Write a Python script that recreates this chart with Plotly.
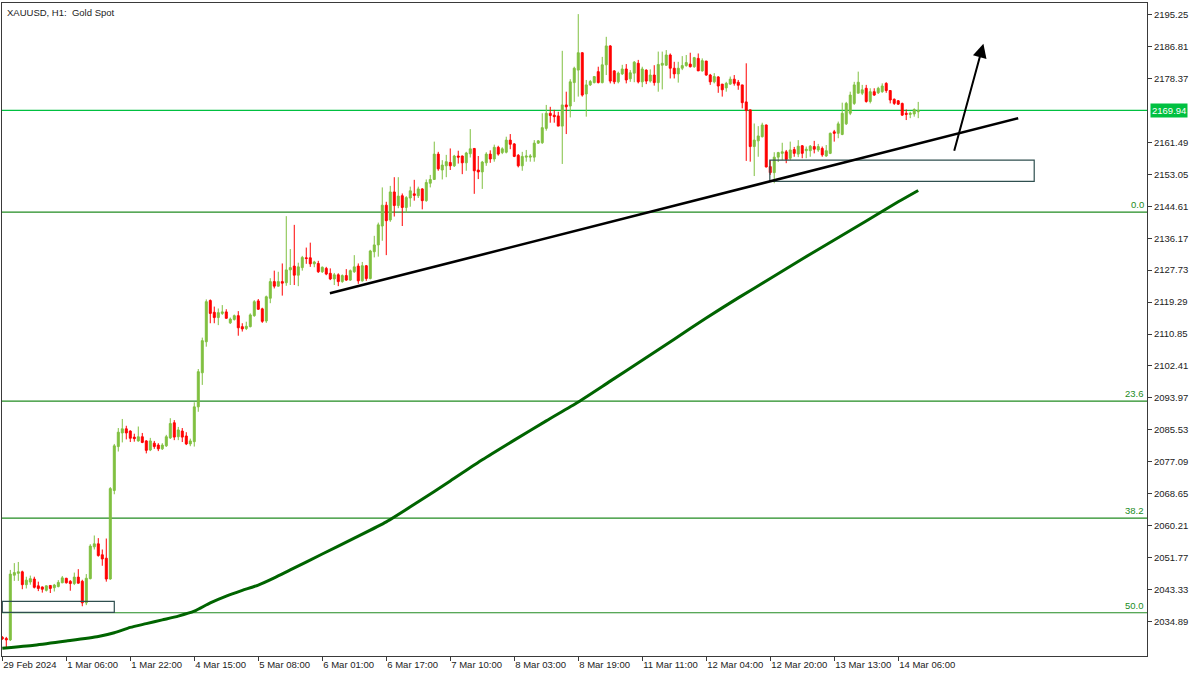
import plotly.graph_objects as go

# ---------------- data ----------------
title_text = "XAUUSD, H1:\u00a0 Gold Spot"

open_ = [
    2030.7, 2030.4, 2030.0, 2047.1, 2047.6, 2048.0, 2044.6, 2045.3, 2046.1, 2044.3,
    2044.0, 2043.1, 2044.4, 2043.8, 2044.1, 2045.1, 2046.3, 2045.5, 2044.9, 2046.6,
    2045.5, 2039.8, 2046.2, 2054.6, 2055.4, 2052.5, 2051.6, 2046.1, 2069.5, 2081.1,
    2084.7, 2085.8, 2085.2, 2083.6, 2082.6, 2083.7, 2082.6, 2080.2, 2082.0, 2081.5,
    2080.5, 2081.3, 2083.4, 2087.4, 2083.7, 2085.2, 2083.9, 2081.8, 2082.4, 2091.6,
    2100.6, 2108.8, 2119.7, 2116.6, 2115.2, 2116.3, 2116.7, 2113.8, 2114.7, 2115.7,
    2112.8, 2112.3, 2112.8, 2115.7, 2119.6, 2117.5, 2114.3, 2120.3, 2124.7, 2123.5,
    2124.7, 2124.4, 2127.8, 2128.8, 2126.4, 2128.4, 2131.0, 2131.0, 2129.4, 2129.5,
    2127.3, 2128.2, 2126.9, 2125.4, 2126.5, 2124.7, 2126.3, 2125.1, 2127.3, 2128.8,
    2124.9, 2128.9, 2125.5, 2132.6, 2134.4, 2139.4, 2144.9, 2141.0, 2148.4, 2144.8,
    2147.4, 2144.3, 2146.8, 2147.9, 2147.4, 2149.2, 2146.1, 2150.7, 2151.7, 2158.4,
    2154.2, 2155.3, 2156.2, 2155.3, 2157.9, 2157.9, 2156.1, 2158.5, 2159.9, 2154.2,
    2153.7, 2156.1, 2158.4, 2157.1, 2160.2, 2158.8, 2158.9, 2162.1, 2161.1, 2158.1,
    2155.3, 2157.6, 2157.6, 2157.6, 2161.3, 2161.4, 2165.2, 2169.2, 2168.7, 2168.5,
    2165.8, 2171.4, 2171.1, 2177.3, 2180.6, 2185.2, 2174.3, 2176.7, 2177.3, 2180.2,
    2177.3, 2182.0, 2187.0, 2180.4, 2177.5, 2179.6, 2180.9, 2178.3, 2179.8, 2182.4,
    2177.5, 2180.6, 2177.7, 2179.3, 2177.3, 2181.9, 2181.9, 2184.6, 2181.1, 2179.6,
    2181.1, 2181.8, 2182.2, 2181.5, 2183.7, 2180.4, 2183.0, 2179.3, 2177.5, 2178.8,
    2176.9, 2175.9, 2176.9, 2178.2, 2177.4, 2176.7, 2172.2, 2170.1, 2160.4, 2161.9,
    2163.0, 2166.1, 2155.1, 2153.5, 2157.6, 2158.6, 2159.0, 2157.3, 2159.6, 2158.4,
    2160.6, 2159.3, 2159.3, 2160.4, 2159.5, 2159.9, 2157.9, 2158.6, 2164.3, 2163.9,
    2163.6, 2166.4, 2169.2, 2171.8, 2174.5, 2174.5, 2175.8, 2172.3, 2174.9, 2174.6,
    2174.9, 2177.1, 2175.2, 2172.9, 2172.5, 2171.8, 2169.2, 2168.9, 2169.0, 2169.6,
]
high = [
    2031.0, 2030.8, 2048.5, 2050.3, 2050.6, 2048.3, 2046.7, 2047.0, 2046.7, 2045.4,
    2044.1, 2044.4, 2044.5, 2044.8, 2045.8, 2046.9, 2046.4, 2045.8, 2047.8, 2048.7,
    2045.9, 2047.4, 2055.3, 2057.6, 2056.9, 2053.9, 2056.8, 2070.4, 2081.8, 2086.0,
    2088.4, 2086.6, 2085.4, 2084.5, 2086.4, 2084.7, 2082.8, 2083.4, 2082.6, 2082.0,
    2082.0, 2084.2, 2088.6, 2088.1, 2086.3, 2086.0, 2084.9, 2083.2, 2092.8, 2101.6,
    2109.9, 2120.0, 2120.0, 2118.1, 2117.6, 2118.5, 2117.4, 2115.2, 2116.0, 2116.9,
    2113.7, 2114.1, 2116.3, 2119.8, 2120.1, 2117.8, 2121.0, 2125.6, 2127.6, 2127.3,
    2129.5, 2142.0, 2133.3, 2139.7, 2129.7, 2131.5, 2133.7, 2135.0, 2130.2, 2130.2,
    2128.7, 2128.6, 2128.2, 2127.0, 2126.9, 2126.6, 2128.0, 2127.9, 2131.7, 2129.5,
    2129.9, 2129.1, 2133.1, 2136.8, 2140.3, 2149.6, 2145.8, 2150.0, 2152.3, 2152.3,
    2148.0, 2147.3, 2149.8, 2151.6, 2149.8, 2149.4, 2151.7, 2152.9, 2161.7, 2159.0,
    2156.8, 2158.2, 2159.9, 2158.2, 2159.3, 2158.0, 2159.0, 2165.0, 2160.0, 2157.9,
    2156.6, 2158.9, 2159.4, 2160.9, 2160.6, 2160.2, 2163.0, 2163.7, 2161.3, 2158.4,
    2159.0, 2159.5, 2158.4, 2162.1, 2162.1, 2169.2, 2171.4, 2170.9, 2170.1, 2169.6,
    2185.7, 2174.9, 2178.2, 2181.5, 2195.4, 2185.3, 2178.0, 2178.0, 2179.0, 2181.5,
    2184.1, 2189.4, 2187.2, 2180.6, 2180.2, 2182.0, 2182.2, 2180.6, 2183.0, 2183.3,
    2181.5, 2180.8, 2180.8, 2181.9, 2185.5, 2185.5, 2185.9, 2185.0, 2182.8, 2182.8,
    2184.3, 2184.6, 2185.2, 2184.1, 2185.0, 2183.7, 2183.0, 2179.6, 2179.8, 2179.0,
    2176.9, 2177.5, 2178.9, 2179.3, 2178.0, 2176.7, 2182.4, 2170.1, 2166.5, 2165.8,
    2166.7, 2166.2, 2156.8, 2158.9, 2159.0, 2161.4, 2159.5, 2161.7, 2160.3, 2162.1,
    2160.8, 2160.4, 2160.8, 2161.9, 2161.1, 2160.4, 2160.8, 2164.1, 2164.8, 2167.0,
    2172.0, 2172.2, 2174.9, 2177.5, 2180.2, 2176.7, 2176.7, 2175.8, 2175.8, 2176.2,
    2177.1, 2177.4, 2175.3, 2173.1, 2172.7, 2172.0, 2170.2, 2169.6, 2170.5, 2172.2,
]
low = [
    2030.0, 2027.8, 2029.7, 2045.6, 2045.6, 2043.4, 2043.6, 2044.6, 2043.6, 2042.9,
    2042.5, 2042.8, 2042.4, 2042.8, 2043.9, 2045.0, 2044.9, 2043.0, 2044.5, 2044.9,
    2038.9, 2039.2, 2046.0, 2053.9, 2052.0, 2049.6, 2045.4, 2045.9, 2068.5, 2079.8,
    2082.2, 2083.0, 2082.3, 2082.4, 2082.4, 2082.0, 2079.3, 2079.9, 2080.5, 2079.9,
    2080.2, 2081.0, 2083.1, 2082.8, 2082.8, 2082.3, 2081.5, 2081.2, 2081.1, 2090.3,
    2097.4, 2107.5, 2113.7, 2113.7, 2113.2, 2115.9, 2114.9, 2113.5, 2114.4, 2110.4,
    2111.5, 2111.9, 2112.6, 2115.4, 2117.2, 2113.8, 2113.8, 2119.0, 2122.9, 2123.4,
    2121.0, 2123.6, 2123.8, 2123.8, 2123.5, 2127.6, 2129.4, 2128.6, 2128.5, 2127.0,
    2127.0, 2126.4, 2125.1, 2123.8, 2123.5, 2124.4, 2124.9, 2124.9, 2127.0, 2124.1,
    2124.7, 2124.9, 2125.3, 2131.1, 2131.3, 2135.5, 2131.7, 2140.5, 2141.9, 2144.1,
    2139.4, 2142.9, 2144.5, 2146.1, 2146.8, 2143.8, 2145.8, 2149.6, 2151.6, 2154.0,
    2151.7, 2152.3, 2154.2, 2155.0, 2155.9, 2153.1, 2154.0, 2157.5, 2147.9, 2151.8,
    2149.2, 2155.3, 2156.1, 2156.4, 2158.0, 2158.4, 2158.6, 2159.7, 2157.6, 2154.9,
    2154.0, 2156.4, 2156.4, 2156.4, 2161.1, 2161.1, 2164.6, 2166.7, 2166.7, 2165.8,
    2155.8, 2163.7, 2168.1, 2172.2, 2173.6, 2173.6, 2168.3, 2176.4, 2177.1, 2177.1,
    2177.1, 2179.3, 2177.1, 2176.9, 2177.1, 2179.3, 2177.1, 2177.5, 2177.4, 2177.1,
    2176.1, 2176.9, 2177.3, 2176.5, 2174.9, 2175.5, 2181.7, 2178.4, 2178.4, 2177.3,
    2180.6, 2181.5, 2181.3, 2181.2, 2180.4, 2180.2, 2179.1, 2176.7, 2177.1, 2174.6,
    2173.6, 2174.9, 2176.7, 2176.5, 2175.4, 2170.5, 2156.6, 2156.4, 2152.6, 2157.7,
    2162.8, 2154.9, 2152.9, 2150.7, 2156.3, 2156.8, 2156.0, 2156.8, 2157.7, 2157.6,
    2157.3, 2157.3, 2157.7, 2158.6, 2159.0, 2157.7, 2157.7, 2158.4, 2161.7, 2162.6,
    2163.4, 2166.1, 2168.7, 2171.4, 2174.5, 2174.0, 2172.0, 2171.8, 2173.8, 2174.3,
    2174.6, 2174.6, 2171.8, 2171.4, 2171.4, 2168.5, 2167.4, 2167.9, 2168.3, 2167.9,
]
close = [
    2030.3, 2030.0, 2047.4, 2047.8, 2048.0, 2044.6, 2045.8, 2046.2, 2043.9, 2043.6,
    2043.4, 2044.3, 2043.6, 2044.5, 2045.2, 2046.4, 2045.1, 2044.9, 2046.6, 2045.0,
    2039.8, 2046.3, 2054.8, 2055.4, 2052.3, 2051.4, 2046.1, 2070.0, 2081.3, 2084.9,
    2085.8, 2084.7, 2083.3, 2083.2, 2083.7, 2082.2, 2080.1, 2082.6, 2081.1, 2080.5,
    2081.5, 2083.7, 2087.2, 2083.6, 2085.5, 2083.6, 2081.8, 2082.6, 2091.6, 2100.9,
    2109.1, 2119.4, 2116.3, 2115.2, 2116.5, 2116.7, 2115.0, 2114.8, 2115.7, 2112.5,
    2112.2, 2112.9, 2115.9, 2119.4, 2117.4, 2114.2, 2120.7, 2124.7, 2123.5, 2124.7,
    2124.3, 2127.8, 2128.4, 2126.4, 2128.6, 2131.1, 2130.8, 2129.4, 2129.9, 2127.3,
    2128.5, 2126.7, 2125.4, 2126.5, 2124.7, 2126.3, 2125.1, 2127.6, 2128.6, 2124.9,
    2128.9, 2125.5, 2132.8, 2134.4, 2139.7, 2144.9, 2140.8, 2148.4, 2144.8, 2147.3,
    2144.3, 2146.9, 2148.7, 2147.5, 2149.2, 2146.1, 2150.9, 2151.7, 2158.4, 2154.5,
    2155.5, 2156.4, 2155.3, 2157.9, 2157.6, 2156.1, 2158.7, 2159.8, 2154.0, 2153.7,
    2156.3, 2158.4, 2157.1, 2160.2, 2158.4, 2159.8, 2162.1, 2161.0, 2157.8, 2155.3,
    2157.8, 2157.9, 2157.9, 2161.3, 2161.9, 2165.4, 2169.2, 2168.6, 2168.3, 2165.8,
    2171.4, 2170.9, 2177.5, 2181.1, 2185.2, 2174.0, 2176.7, 2177.6, 2178.9, 2177.3,
    2182.0, 2187.0, 2177.7, 2177.5, 2179.8, 2180.9, 2178.0, 2179.9, 2182.7, 2177.5,
    2180.9, 2177.7, 2179.3, 2177.3, 2182.1, 2182.4, 2184.6, 2181.1, 2179.6, 2181.1,
    2181.8, 2182.6, 2181.5, 2183.9, 2180.4, 2183.1, 2179.3, 2177.5, 2178.9, 2176.4,
    2175.4, 2177.1, 2178.2, 2177.1, 2176.6, 2172.0, 2169.9, 2160.4, 2162.1, 2163.2,
    2166.1, 2155.0, 2153.5, 2157.6, 2158.8, 2159.0, 2157.0, 2159.5, 2158.6, 2160.5,
    2158.6, 2159.7, 2160.5, 2159.7, 2160.4, 2158.2, 2159.3, 2163.9, 2163.9, 2166.4,
    2169.2, 2171.8, 2174.0, 2176.7, 2177.4, 2175.4, 2172.3, 2174.9, 2174.0, 2175.8,
    2176.4, 2175.2, 2172.7, 2171.8, 2171.6, 2168.7, 2168.9, 2169.2, 2170.2, 2169.94,
]
bars = list(range(len(close)))

tick_bars = [0, 16, 32, 48, 64, 80, 96, 112, 128, 144, 160, 176, 192, 208, 224]
tick_labels = ["29 Feb 2024", "1 Mar 06:00", "1 Mar 22:00", "4 Mar 15:00",
               "5 Mar 08:00", "6 Mar 01:00", "6 Mar 17:00", "7 Mar 10:00",
               "8 Mar 03:00", "8 Mar 19:00", "11 Mar 11:00", "12 Mar 04:00",
               "12 Mar 20:00", "13 Mar 13:00", "14 Mar 06:00"]

# moving average line (read at a number of bars)
ma_bars = [0, 8, 16, 24, 28, 32, 36, 40, 44, 48, 52, 56, 60, 64, 68, 72, 80, 88,
           96, 104, 112, 120, 128, 136, 144, 152, 160, 168, 176, 184, 192, 200,
           208, 216, 224, 229]
ma_values = [2027.8, 2028.6, 2029.7, 2030.9, 2031.9, 2033.3, 2034.3, 2035.3,
             2036.3, 2037.6, 2039.8, 2041.6, 2043.1, 2044.5, 2046.4, 2048.5,
             2052.7, 2056.9, 2061.2, 2066.5, 2072.0, 2077.6, 2082.8, 2087.9,
             2092.9, 2098.4, 2103.9, 2109.5, 2115.1, 2120.4, 2125.5, 2130.7,
             2135.7, 2140.7, 2145.8, 2148.8]

price_ticks = [2195.25, 2186.81, 2178.37, 2161.49, 2153.05, 2144.61, 2136.17,
               2127.73, 2119.29, 2110.85, 2102.41, 2093.97, 2085.53, 2077.09,
               2068.65, 2060.21, 2051.77, 2043.33, 2034.89]
current_price = 2169.94

fib_level_0 = 2143.07
fib_level_100 = 1931.3
fib_ratios = [0.0, 23.6, 38.2, 50.0]

trend_bars = [81.9, 254.0]
trend_prices = [2121.6, 2167.9]

arrow_bars = [237.9, 245.3]
arrow_prices = [2158.9, 2187.6]

box1_bars = [0.0, 28.0]
box1_prices = [2037.3, 2040.2]
box2_bars = [191.9, 258.0]
box2_prices = [2151.2, 2156.8]

# ---------------- styling ----------------
FONT = "Liberation Sans, Arial, sans-serif"
AXIS_COLOR = "#3a3a3a"
TEXT_COLOR = "#222222"
BULL = "#80C040"
BEAR = "#FF0000"
PRICE_GREEN = "#00C040"
FIB_GREEN = "#228B22"
FS = 9.5

fig = go.Figure()

fig.add_trace(go.Candlestick(
    x=bars, open=open_, high=high, low=low, close=close,
    increasing=dict(line=dict(color=BULL, width=1), fillcolor=BULL),
    decreasing=dict(line=dict(color=BEAR, width=1), fillcolor=BEAR),
    whiskerwidth=0, hoverinfo="skip", showlegend=False,
))

fig.add_trace(go.Scatter(
    x=ma_bars, y=ma_values, mode="lines", line_shape="spline",
    line=dict(color="#006400", width=3, smoothing=0.6),
    hoverinfo="skip", showlegend=False,
))

shapes = []
for r in fib_ratios:
    lvl = fib_level_0 - r / 100.0 * (fib_level_0 - fib_level_100)
    shapes.append(dict(type="line", xref="paper", x0=0, x1=1, yref="y",
                       y0=lvl, y1=lvl, line=dict(color=FIB_GREEN, width=1.2),
                       layer="below"))
shapes.append(dict(type="line", xref="paper", x0=0, x1=1, yref="y",
                   y0=current_price, y1=current_price,
                   line=dict(color=PRICE_GREEN, width=1.2), layer="below"))
for bx, by in [(box1_bars, box1_prices), (box2_bars, box2_prices)]:
    shapes.append(dict(type="rect", xref="x", yref="y", x0=bx[0], x1=bx[1],
                       y0=by[0], y1=by[1],
                       line=dict(color="#2F4F4F", width=1.2),
                       fillcolor="rgba(0,0,0,0)"))
shapes.append(dict(type="line", xref="x", yref="y",
                   x0=trend_bars[0], x1=trend_bars[1],
                   y0=trend_prices[0], y1=trend_prices[1],
                   line=dict(color="black", width=2.6)))

annotations = []
annotations.append(dict(x=arrow_bars[1], y=arrow_prices[1], xref="x", yref="y",
                        ax=arrow_bars[0], ay=arrow_prices[0], axref="x", ayref="y",
                        showarrow=True, arrowhead=2, arrowsize=1.4, arrowwidth=2,
                        arrowcolor="black", text=""))
for r in fib_ratios:
    lvl = fib_level_0 - r / 100.0 * (fib_level_0 - fib_level_100)
    annotations.append(dict(x=1, xref="paper", xanchor="right", xshift=-1,
                            y=lvl, yref="y", yanchor="bottom", yshift=0,
                            text=f"{r:.1f}", showarrow=False,
                            font=dict(family=FONT, size=FS, color=FIB_GREEN)))
annotations.append(dict(x=1, xref="paper", xanchor="left", xshift=3,
                        y=current_price, yref="y", yanchor="middle",
                        text=f"{current_price:.2f}", showarrow=False,
                        bgcolor=PRICE_GREEN, borderpad=1,
                        font=dict(family=FONT, size=FS, color="white")))
annotations.append(dict(x=0, xref="paper", xanchor="left", xshift=3,
                        y=1, yref="paper", yanchor="top", yshift=-2,
                        text=title_text, showarrow=False,
                        font=dict(family=FONT, size=FS, color=TEXT_COLOR)))

fig.update_layout(
    width=1200, height=675,
    margin=dict(l=2, r=53, t=3, b=19, pad=0, autoexpand=False),
    paper_bgcolor="white", plot_bgcolor="white",
    showlegend=False,
    boxgap=0.3,
    shapes=shapes, annotations=annotations,
    font=dict(family=FONT, size=FS, color=TEXT_COLOR),
    xaxis=dict(
        range=[-0.075, 286.2], rangeslider=dict(visible=False),
        automargin=False,
        showgrid=False, zeroline=False,
        showline=True, mirror=True, linecolor=AXIS_COLOR, linewidth=1,
        ticks="outside", ticklen=4, tickcolor=AXIS_COLOR, tickwidth=1,
        tickvals=tick_bars, ticktext=tick_labels, tickangle=0,
        ticklabelposition="outside right",
        tickfont=dict(family=FONT, size=FS, color=TEXT_COLOR),
    ),
    yaxis=dict(
        range=[2025.75, 2198.34], side="right",
        automargin=False,
        showgrid=False, zeroline=False,
        showline=True, mirror=True, linecolor=AXIS_COLOR, linewidth=1,
        ticks="outside", ticklen=4, tickcolor=AXIS_COLOR, tickwidth=1,
        tickvals=price_ticks, ticktext=[f"{v:.2f}" for v in price_ticks],
        tickfont=dict(family=FONT, size=FS, color=TEXT_COLOR),
    ),
)

fig.write_html(
    "out.html",
    config={"displayModeBar": False, "staticPlot": True},
    post_script="document.body.style.margin='0';document.body.style.overflow='hidden';",
)
